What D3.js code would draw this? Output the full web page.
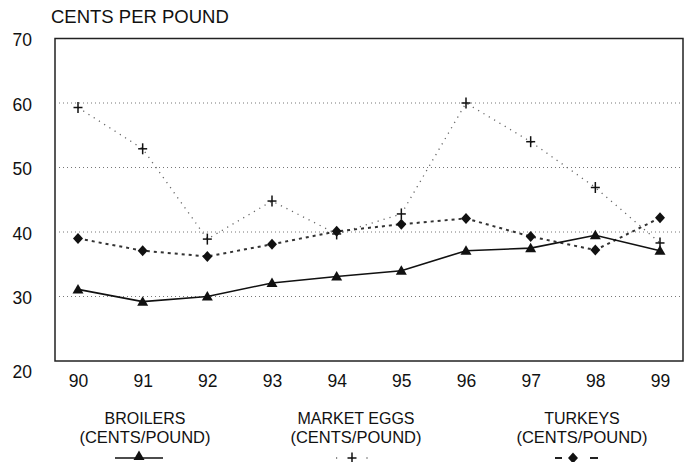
<!DOCTYPE html>
<html>
<head>
<meta charset="utf-8">
<script src="https://cdn.jsdelivr.net/npm/d3@7/dist/d3.min.js"></script>
<style>
  html, body { margin: 0; padding: 0; background: #fff; }
  svg { display: block; }
  text { font-family: "Liberation Sans", Arial, Helvetica, sans-serif; fill: #111; }
</style>
</head>
<body>
<svg id="chart" width="689" height="462"></svg>
<script>
// Annual prices, cents per pound
const years = ["90", "91", "92", "93", "94", "95", "96", "97", "98", "99"];
const broilers = [31.1, 29.2, 30.0, 32.1, 33.1, 34.0, 37.1, 37.5, 39.5, 37.1];
const marketEggs = [59.3, 52.9, 38.9, 44.8, 39.7, 42.8, 60.0, 54.0, 46.9, 38.3];
const turkeys = [39.0, 37.1, 36.2, 38.1, 40.1, 41.2, 42.1, 39.3, 37.2, 42.2];
const yTicks = [20, 30, 40, 50, 60, 70];
const gridValues = [30, 40, 50, 60];
const seriesNames = ["BROILERS", "MARKET EGGS", "TURKEYS"];
const unitLabel = "(CENTS/POUND)";

const svg = d3.select("#chart");
const box = { left: 55, top: 38.5, right: 683, bottom: 361 };

const x = d3.scalePoint().domain(years).range([78, 660]);
const y = d3.scaleLinear().domain([20, 70]).range([box.bottom, box.top]);

// Title above the plot
svg.append("text")
  .attr("x", 51).attr("y", 23)
  .attr("font-size", 18.5)
  .text("CENTS PER POUND");

// Dotted horizontal gridlines
svg.append("g").selectAll("line").data(gridValues).join("line")
  .attr("x1", box.left + 4).attr("x2", box.right - 2)
  .attr("y1", d => y(d)).attr("y2", d => y(d))
  .attr("stroke", "#777").attr("stroke-width", 1)
  .attr("stroke-dasharray", "1,3");

// Frame around the plot area
svg.append("rect")
  .attr("x", box.left).attr("y", box.top)
  .attr("width", box.right - box.left).attr("height", box.bottom - box.top)
  .attr("fill", "none").attr("stroke", "#222").attr("stroke-width", 1.5);

// Y axis labels
const yAxis = d3.axisLeft(y).tickValues(yTicks).tickSize(0).tickPadding(0);
const gy = svg.append("g").attr("transform", "translate(32,0)").call(yAxis);
gy.select(".domain").remove();
gy.selectAll("text")
  .attr("font-size", 17.5).attr("font-family", null).attr("fill", "#111")
  .attr("dy", d => d === 20 ? "0.95em" : "0.42em");

// X axis labels
const xAxis = d3.axisBottom(x).tickSize(0).tickPadding(0);
const gx = svg.append("g").attr("transform", "translate(0,374)").call(xAxis);
gx.select(".domain").remove();
gx.selectAll("text")
  .attr("font-size", 17.5).attr("font-family", null).attr("fill", "#111")
  .attr("dy", "0.72em");

const line = d3.line().x((d, i) => x(years[i])).y(d => y(d));

// Marker shapes
const triangle = "M0,-5.5L5.5,4L-5.5,4Z";
const diamond = "M0,-5.5L5,0L0,5.5L-5,0Z";
function plus(g) {
  g.append("line").attr("x1", -4.5).attr("x2", 4.5).attr("y1", 0).attr("y2", 0);
  g.append("line").attr("x1", 0).attr("x2", 0).attr("y1", -5.5).attr("y2", 5.5);
  g.attr("stroke", "#111").attr("stroke-width", 1.5);
}

// Market eggs: sparse dotted line with plus markers
svg.append("path").datum(marketEggs)
  .attr("d", line).attr("fill", "none")
  .attr("stroke", "#666").attr("stroke-width", 1.3)
  .attr("stroke-dasharray", "1.2,5");

// Turkeys: dashed line with diamonds
svg.append("path").datum(turkeys)
  .attr("d", line).attr("fill", "none")
  .attr("stroke", "#333").attr("stroke-width", 2)
  .attr("stroke-dasharray", "3,4");

// Broilers: solid line with triangles
svg.append("path").datum(broilers)
  .attr("d", line).attr("fill", "none")
  .attr("stroke", "#111").attr("stroke-width", 1.6);

svg.append("g").selectAll("g").data(marketEggs).join("g")
  .attr("transform", (d, i) => `translate(${x(years[i])},${y(d)})`)
  .each(function () { plus(d3.select(this)); });

svg.append("g").selectAll("path").data(turkeys).join("path")
  .attr("transform", (d, i) => `translate(${x(years[i])},${y(d)})`)
  .attr("d", diamond).attr("fill", "#111");

svg.append("g").selectAll("path").data(broilers).join("path")
  .attr("transform", (d, i) => `translate(${x(years[i])},${y(d)})`)
  .attr("d", triangle).attr("fill", "#111");

// Legend
const legendX = [145, 356, 582];
const legend = svg.append("g").selectAll("g").data(seriesNames).join("g")
  .attr("transform", (d, i) => `translate(${legendX[i]},0)`);
legend.append("text")
  .attr("y", 424).attr("text-anchor", "middle").attr("font-size", 16)
  .text(d => d);
legend.append("text")
  .attr("y", 443).attr("text-anchor", "middle").attr("font-size", 16.5)
  .text(unitLabel);

const ly = 458;
// Broilers key
const k0 = legend.filter((d, i) => i === 0);
k0.append("line").attr("x1", -30).attr("x2", 18).attr("y1", ly).attr("y2", ly)
  .attr("stroke", "#111").attr("stroke-width", 1.6);
k0.append("path").attr("transform", `translate(-6,${ly - 2})`).attr("d", triangle).attr("fill", "#111");

// Market eggs key
const k1 = legend.filter((d, i) => i === 1);
k1.append("line").attr("x1", -20).attr("x2", 14).attr("y1", ly).attr("y2", ly)
  .attr("stroke", "#666").attr("stroke-width", 1.3).attr("stroke-dasharray", "1.2,14");
k1.append("g").attr("transform", `translate(-4,${ly})`).each(function () { plus(d3.select(this)); });

// Turkeys key
const k2 = legend.filter((d, i) => i === 2);
k2.append("line").attr("x1", -27).attr("x2", -20).attr("y1", ly).attr("y2", ly)
  .attr("stroke", "#222").attr("stroke-width", 2);
k2.append("line").attr("x1", 8).attr("x2", 16).attr("y1", ly).attr("y2", ly)
  .attr("stroke", "#222").attr("stroke-width", 2);
k2.append("path").attr("transform", `translate(-9,${ly})`).attr("d", diamond).attr("fill", "#111");
</script>
</body>
</html>
